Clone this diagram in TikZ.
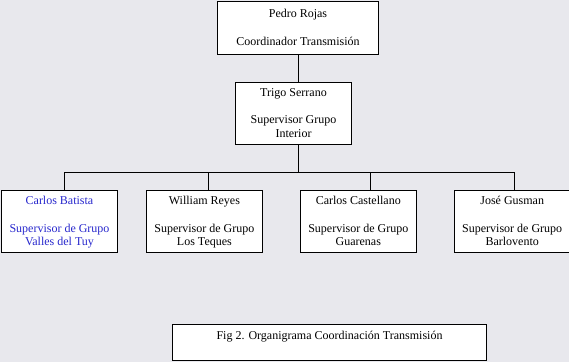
\documentclass[tikz,border=0pt]{standalone}
\usepackage{fontspec}
\setmainfont{Liberation Serif}
\definecolor{orgpaper}{RGB}{232,232,237}
\definecolor{orgblue}{RGB}{40,40,205}
\usepackage{tikz}
\usetikzlibrary{positioning}

\begin{document}
\begin{tikzpicture}[x=1pt,y=-1pt,
  cargo/.style={draw=black,line width=0.9pt,fill=white,align=center,
    font=\fontsize{12}{13.8}\selectfont,inner sep=2pt,minimum width=116pt,minimum height=62pt,
    text depth=-3pt},
  enlace/.style={draw=black,line width=0.9pt}]
  \fill[orgpaper] (0,0) rectangle (569,362);
  \useasboundingbox (0,0) rectangle (569,362);
  \node[cargo,minimum width=161pt,minimum height=53pt] (pedro) at (298,27.5)
    {Pedro Rojas\\[13.8pt]Coordinador Transmisi\'on};
  \node[cargo,minimum width=115.5pt] (trigo) at (293.5,113)
    {Trigo Serrano\\[13.8pt]Supervisor Grupo\\Interior};
  \node[cargo,text=orgblue] (batista) at (59.5,221)
    {Carlos Batista\\[13.8pt]Supervisor de Grupo\\Valles del Tuy};
  \node[cargo,right=28pt of batista] (reyes)
    {William Reyes\\[13.8pt]Supervisor de Grupo\\Los Teques};
  \node[cargo,right=37pt of reyes] (castellano)
    {Carlos Castellano\\[13.8pt]Supervisor de Grupo\\Guarenas};
  \node[cargo,right=37pt of castellano] (gusman)
    {Jos\'e Gusman\\[13.8pt]Supervisor de Grupo\\Barlovento};
  \node[cargo,minimum width=314pt,minimum height=35.5pt] (fig) at (329.5,342.5)
    {Fig 2. Organigrama Coordinaci\'on Transmisi\'on\\\strut};
  \coordinate (bus) at (298.5,172);
  \coordinate (d1) at (64.3,172);
  \coordinate (d2) at (208.7,172);
  \coordinate (d3) at (370.7,172);
  \coordinate (d4) at (514.3,172);
  \draw[enlace] (bus |- pedro.south) -- (bus |- trigo.north);
  \draw[enlace] (bus |- trigo.south) -- (bus);
  \draw[enlace] (d1) -- (d4);
  \foreach \d/\b in {d1/batista,d2/reyes,d3/castellano,d4/gusman}
    \draw[enlace] (\d) -- (\d |- \b.north);
\end{tikzpicture}
\end{document}
